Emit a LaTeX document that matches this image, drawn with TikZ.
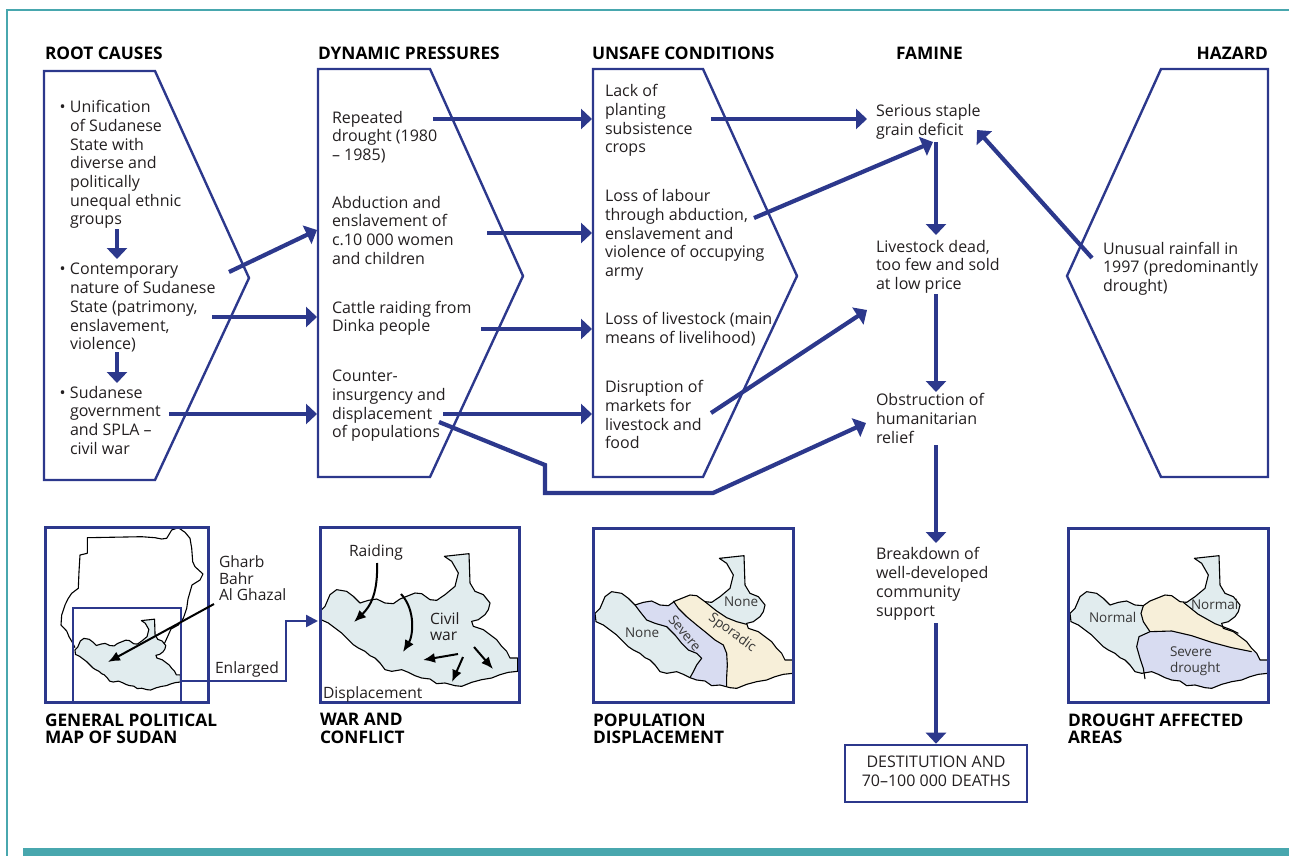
\documentclass[tikz,border=0pt]{standalone}
\usepackage{fontspec}
\setmainfont{Open Sans}
\usetikzlibrary{arrows.meta}
\definecolor{navyc}{RGB}{44,56,140}
\definecolor{framec}{RGB}{72,167,174}
\definecolor{mapblue}{RGB}{225,236,238}
\definecolor{mappurple}{RGB}{216,220,241}
\definecolor{mapbeige}{RGB}{247,239,217}
\definecolor{txtc}{RGB}{35,31,32}
\definecolor{labc}{RGB}{55,55,55}
\newcommand\myBody{\fontsize{16}{18.7}\selectfont}
\newcommand\myHead{\fontsize{17.3}{17.5}\selectfont\bfseries}
\newcommand\myLab{\fontsize{15.6}{16}\selectfont}
\newcommand\mySmall{\fontsize{13.5}{16}\selectfont}
\newcommand\mylines[1]{\begin{tabular}{@{}l@{}}#1\end{tabular}}
\newcommand\bul{\makebox[10.5pt][l]{\textbullet}}
\newcommand\ind{\hspace*{10.5pt}}
\newcommand\sspath{(15,265) -- (30,250) -- (45,215) -- (65,200) -- (95,205) -- (115,220) -- (135,240) -- (160,232) -- (185,228) -- (210,240) -- (235,242) -- (255,228) -- (275,220) -- (300,210) -- (320,212) -- (345,230) -- (365,232) -- (390,215) -- (420,190) -- (430,150) -- (410,115) -- (388,100) -- (462,92) -- (465,180) -- (480,205) -- (505,215) -- (525,240) -- (520,260) -- (510,275) -- (490,290) -- (470,295) -- (475,310) -- (505,320) -- (525,335) -- (545,350) -- (560,370) -- (575,385) -- (585,405) -- (608,405) -- (608,445) -- (580,448) -- (555,455) -- (530,465) -- (500,470) -- (470,478) -- (440,490) -- (420,488) -- (390,480) -- (365,482) -- (345,468) -- (320,465) -- (300,458) -- (280,448) -- (260,440) -- (230,445) -- (210,440) -- (195,420) -- (180,405) -- (165,398) -- (150,385) -- (130,375) -- (115,365) -- (100,350) -- (80,330) -- (60,315) -- (40,300) -- (18,290) -- cycle}
\tikzset{
  txt/.style={anchor=north west, inner sep=0pt, outer sep=0pt, font=\myBody, text=txtc},
  head/.style={anchor=base west, inner sep=0pt, outer sep=0pt, font=\myHead, text=black},
  headtwo/.style={anchor=north west, inner sep=0pt, outer sep=0pt, font=\myHead, text=black},
  lab/.style={inner sep=0pt, outer sep=0pt, font=\myLab, text=txtc},
  glab/.style={inner sep=0pt, outer sep=0pt, font=\mySmall, text=labc},
  chev/.style={draw=navyc, line width=2.4pt, line join=miter},
  narrow/.style={draw=navyc, line width=4.2pt, -{Triangle[length=11pt,width=20pt]}},
  thinarrow/.style={draw=navyc, line width=2.4pt, -{Triangle[length=12pt,width=12pt]}},
  barrow/.style={draw=black, line width=2pt, -{Latex[length=12pt,width=10pt]}},
  mapline/.style={draw=black, line width=1.1pt, line join=round},
}
\begin{document}
\begin{tikzpicture}[x=1pt, y=-1pt]
\useasboundingbox (0,0) rectangle (1289,856);
% frame
\draw[framec, line width=2pt] (1289,10) -- (7,10) -- (7,856);
\fill[framec] (23,848) rectangle (1289,856);

% headings
\node[head] (hroot) at (45,59.3) {ROOT CAUSES};
\node[head] (hdyn) at (318,59.3) {DYNAMIC PRESSURES};
\node[head] (hunsafe) at (592,59.3) {UNSAFE CONDITIONS};
\node[head] (hfam) at (896,59.3) {FAMINE};
\node[head, anchor=base east] (hhaz) at (1268,59.3) {HAZARD};

% chevron boxes
\draw[chev] (44,71) -- (155,71) -- (249,278) -- (155,480) -- (44,480) -- cycle;
\draw[chev] (318,69) -- (430,69) -- (523,276) -- (430,477) -- (318,477) -- cycle;
\draw[chev] (593,69) -- (703,69) -- (797,276) -- (703,477) -- (593,477) -- cycle;
\draw[chev] (1268,69) -- (1161,69) -- (1067,276) -- (1161,477) -- (1268,477) -- cycle;

% root causes
\node[txt] (r1) at (59.5,99.6) {\mylines{\bul Unification\\\ind of Sudanese\\\ind State with\\\ind diverse and\\\ind politically\\\ind unequal ethnic\\\ind groups}};
\node[txt] (r2) at (59.5,261.9) {\mylines{\bul Contemporary\\\ind nature of Sudanese\\\ind State (patrimony,\\\ind enslavement,\\\ind violence)}};
\node[txt] (r3) at (59.5,385.2) {\mylines{\bul Sudanese\\\ind government\\\ind and SPLA –\\\ind civil war}};

% dynamic pressures
\node[txt] (d1) at (332,110.2) {\mylines{Repeated\\drought (1980\\– 1985)}};
\node[txt] (d2) at (332,195.2) {\mylines{Abduction and\\enslavement of\\c.10 000 women\\and children}};
\node[txt] (d3) at (332,300.2) {\mylines{Cattle raiding from\\Dinka people}};
\node[txt] (d4) at (332,368.6) {\mylines{Counter-\\insurgency and\\displacement\\of populations}};

% unsafe conditions
\node[txt] (u1) at (605,83.6) {\mylines{Lack of\\planting\\subsistence\\crops}};
\node[txt] (u2) at (605,188.6) {\mylines{Loss of labour\\through abduction,\\enslavement and\\violence of occupying\\army}};
\node[txt] (u3) at (605,311.9) {\mylines{Loss of livestock (main\\means of livelihood)}};
\node[txt] (u4) at (605,379.6) {\mylines{Disruption of\\markets for\\livestock and\\food}};

% famine
\node[txt] (f1) at (876,103.6) {\mylines{Serious staple\\grain deficit}};
\node[txt] (f2) at (876,239.2) {\mylines{Livestock dead,\\too few and sold\\at low price}};
\node[txt] (f3) at (876,392.9) {\mylines{Obstruction of\\humanitarian\\relief}};
\node[txt] (f4) at (876,546.9) {\mylines{Breakdown of\\well-developed\\community\\support}};
\node[draw=navyc, line width=2.6pt, minimum width=182pt, minimum height=57pt, inner sep=0pt, font=\myBody, text=txtc] (f5) at (936,773.5) {\begin{tabular}{@{}c@{}}DESTITUTION AND\\70–100 000 DEATHS\end{tabular}};

% hazard
\node[txt] (hz) at (1103,241.2) {\mylines{Unusual rainfall in\\1997 (predominantly\\drought)}};

% connector coordinates
\coordinate (ra1) at (117,229); \coordinate (ra2) at (117,259);
\coordinate (rb1) at (117,352); \coordinate (rb2) at (117,383);
\coordinate (a1s) at (229,272); \coordinate (a1e) at (317,230);
\coordinate (a2s) at (212,317); \coordinate (a2e) at (317,317);
\coordinate (a3s) at (169,414); \coordinate (a3e) at (317,414);
\coordinate (b1s) at (433,119); \coordinate (b1e) at (592,119);
\coordinate (b2s) at (487,233); \coordinate (b2e) at (592,233);
\coordinate (b3s) at (481,329); \coordinate (b3e) at (592,329);
\coordinate (b4s) at (443,414); \coordinate (b4e) at (592,414);
\coordinate (b5s) at (439,422); \coordinate (b5a) at (545,465); \coordinate (b5b) at (545,493); \coordinate (b5c) at (713,493); \coordinate (b5e) at (866,423);
\coordinate (c1s) at (711,119); \coordinate (c1e) at (867,119);
\coordinate (c2s) at (754,218); \coordinate (c2e) at (933,142);
\coordinate (c3s) at (711,413); \coordinate (c3e) at (867,310);
\coordinate (hs) at (1092,258); \coordinate (he) at (977,130);
\coordinate (v1s) at (936,142); \coordinate (v1e) at (936,235);
\coordinate (v2s) at (936,294); \coordinate (v2e) at (936,392);
\coordinate (v3s) at (936,445); \coordinate (v3e) at (936,543);
\coordinate (v4s) at (936,623);

% navy arrows
\draw[narrow] (ra1) -- (ra2);
\draw[narrow] (rb1) -- (rb2);
\draw[narrow] (a1s) -- (a1e);
\draw[narrow] (a2s) -- (a2e);
\draw[narrow] (a3s) -- (a3e);
\draw[narrow] (b1s) -- (b1e);
\draw[narrow] (b2s) -- (b2e);
\draw[narrow] (b3s) -- (b3e);
\draw[narrow] (b4s) -- (b4e);
\draw[narrow, line join=miter] (b5s) -- (b5a) -- (b5b) -- (b5c) -- (b5e);
\draw[narrow] (c1s) -- (c1e);
\draw[narrow] (c2s) -- (c2e);
\draw[narrow] (c3s) -- (c3e);
\draw[narrow] (hs) -- (he);
\draw[narrow] (v1s) -- (v1e);
\draw[narrow] (v2s) -- (v2e);
\draw[narrow] (v3s) -- (v3e);
\draw[narrow] (v4s) -- (f5.north);

% ---------- map 1: general political map
\draw[mapline] (75,647.7) -- (72.3,642.3) -- (69,636.7) -- (66.7,631) -- (61,625) -- (61.7,615) -- (65,605) -- (68.3,598.3) -- (71.7,593.3) -- (78.3,588.3) -- (79,571.7) -- (80,555) -- (87.3,553.3) -- (87.3,537.7) -- (141.7,536.7) -- (155,537.7) -- (161.7,539) -- (166.7,538.3) -- (171.7,530) -- (178.3,527.7) -- (185,532.3) -- (190,538.3) -- (191.7,548.3) -- (192.7,561.7) -- (195,566.7) -- (203,574) -- (200,580) -- (192,585) -- (188,599) -- (186.7,608.3) -- (183.3,618.3) -- (178.3,625) -- (171,629) -- (168.3,635) -- (165,642.3) -- (163,646);
\begin{scope}[shift={(72.3,602.8)}, scale=0.178]
  \fill[mapblue] \sspath;
  \draw[mapline] \sspath;
\end{scope}
\draw[navyc, line width=1.4pt] (73,702) -- (73,608) -- (181,608) -- (181,702);
\node[draw=navyc, line width=3pt, minimum width=163pt, minimum height=175pt, inner sep=0pt] (m1) at (126.5,614.5) {};
\node[lab, anchor=north west] (gharb) at (219,555.5) {\begin{tabular}{@{}l@{}}Gharb\\Bahr\\Al Ghazal\end{tabular}};
\coordinate (gs) at (214,604); \coordinate (ge) at (108,662);
\draw[barrow] (gs) -- (ge);
\node[lab, anchor=base west] (enl) at (215,673.3) {Enlarged};

% ---------- map 2: war and conflict
\begin{scope}[shift={(315,523)}, scale=1/3]
  \fill[mapblue] \sspath;
  \draw[mapline] \sspath;
\end{scope}
\node[draw=navyc, line width=3pt, minimum width=199pt, minimum height=175pt, inner sep=0pt] (m2) at (419.5,614.5) {};
\coordinate (e1) at (181,681); \coordinate (e2) at (286,681); \coordinate (e3) at (286,621); \coordinate (e4) at (318,621);
\draw[thinarrow, line join=miter] (e1) -- (e2) -- (e3) -- (e4);
\node[lab, anchor=base west] (raid) at (349,556.7) {Raiding};
\node[lab, anchor=north west] (civ) at (430,612.8) {\begin{tabular}{@{}l@{}}Civil\\war\end{tabular}};
\node[lab, anchor=base west] (disp) at (323,698.3) {Displacement};
\coordinate (w1s) at (377,563); \coordinate (w1e) at (354,622);
\coordinate (w2s) at (401,594); \coordinate (w2e) at (403,652);
\coordinate (w3s) at (458,654); \coordinate (w3e) at (423,660);
\coordinate (w4s) at (463,657); \coordinate (w4e) at (452,682);
\coordinate (w5s) at (474,647); \coordinate (w5e) at (493,669);
\draw[barrow] (w1s) .. controls (378,592) and (371,606) .. (w1e);
\draw[barrow] (w2s) .. controls (416,610) and (413,636) .. (w2e);
\draw[barrow] (w3s) -- (w3e);
\draw[barrow] (w4s) -- (w4e);
\draw[barrow] (w5s) -- (w5e);

% ---------- map 3: population displacement
\begin{scope}[shift={(590,525)}, scale=1/3]
  \fill[mapblue] \sspath;
  \begin{scope}
    \clip \sspath;
    \fill[mappurple] (135,240) -- (150,260) -- (170,285) -- (195,295) -- (230,305) -- (255,330) -- (275,355) -- (295,375) -- (320,385) -- (335,400) -- (320,420) -- (310,440) -- (300,470) -- (300,520) -- (410,520) -- (410,455) -- (412,420) -- (410,385) -- (400,360) -- (375,345) -- (345,320) -- (320,300) -- (290,275) -- (265,250) -- (250,228) -- (200,180) -- (120,200) -- cycle;
    \fill[mapbeige] (250,228) -- (265,250) -- (290,275) -- (320,300) -- (345,320) -- (375,345) -- (400,360) -- (410,385) -- (412,420) -- (410,455) -- (410,520) -- (640,520) -- (640,300) -- (470,298) -- (440,290) -- (410,278) -- (380,258) -- (345,230) -- (320,200) -- (250,200) -- cycle;
  \end{scope}
  \draw[mapline] (135,240) -- (150,260) -- (170,285) -- (195,295) -- (230,305) -- (255,330) -- (275,355) -- (295,375) -- (320,385) -- (335,400) -- (320,420) -- (310,440) -- (300,458);
  \draw[mapline] (250,228) -- (265,250) -- (290,275) -- (320,300) -- (345,320) -- (375,345) -- (400,360) -- (410,385) -- (412,420) -- (410,455) -- (410,485);
  \draw[mapline] (345,230) -- (380,258) -- (410,278) -- (440,290) -- (470,298);
  \draw[mapline] \sspath;
\end{scope}
\node[draw=navyc, line width=3pt, minimum width=200pt, minimum height=174pt, inner sep=0pt] (m3) at (693,615) {};
\node[glab, anchor=base west] (n1) at (625,637.7) {None};
\node[glab, anchor=base west] (n2) at (724,606.7) {None};
\node[glab, rotate=-50] (sev) at (685,633) {Severe};
\node[glab, rotate=-36] (spo) at (732,633) {Sporadic};

% ---------- map 4: drought affected areas
\begin{scope}[shift={(1065,525)}, scale=1/3]
  \fill[mapblue] \sspath;
  \begin{scope}
    \clip \sspath;
    \fill[mapbeige] (235,240) -- (228,265) -- (235,290) -- (255,320) -- (320,318) -- (380,332) -- (440,352) -- (500,368) -- (560,380) -- (600,380) -- (560,335) -- (520,325) -- (500,315) -- (450,296) -- (400,268) -- (355,232) -- (300,180) -- (220,200) -- cycle;
    \fill[mappurple] (240,470) -- (235,430) -- (225,400) -- (215,365) -- (222,335) -- (255,320) -- (320,318) -- (380,332) -- (440,352) -- (500,368) -- (560,380) -- (640,380) -- (640,520) -- (240,520) -- cycle;
  \end{scope}
  \draw[mapline] (235,242) -- (228,265) -- (235,290) -- (255,320);
  \draw[mapline] (255,320) -- (222,335) -- (215,365) -- (225,400) -- (235,430) -- (240,462);
  \draw[mapline] (255,320) -- (320,318) -- (380,332) -- (440,352) -- (500,368) -- (560,380);
  \draw[mapline] (355,232) -- (400,268) -- (450,296) -- (500,315) -- (520,325);
  \draw[mapline] \sspath;
\end{scope}
\node[draw=navyc, line width=3pt, minimum width=200pt, minimum height=174pt, inner sep=0pt] (m4) at (1168,615) {};
\node[glab, anchor=base west] (nm1) at (1089,622.7) {Normal};
\node[glab, anchor=base west] (nm2) at (1191,609.3) {Normal};
\node[glab, anchor=north west] (sd) at (1170,645.5) {\begin{tabular}{@{}l@{}}Severe\\drought\end{tabular}};

% bottom headings
\node[headtwo] (hm1) at (45,713.5) {\begin{tabular}{@{}l@{}}GENERAL POLITICAL\\MAP OF SUDAN\end{tabular}};
\node[headtwo] (hm2) at (320,713.5) {\begin{tabular}{@{}l@{}}WAR AND\\CONFLICT\end{tabular}};
\node[headtwo] (hm3) at (593,713.5) {\begin{tabular}{@{}l@{}}POPULATION\\DISPLACEMENT\end{tabular}};
\node[headtwo] (hm4) at (1068,713.5) {\begin{tabular}{@{}l@{}}DROUGHT AFFECTED\\AREAS\end{tabular}};
\end{tikzpicture}
\end{document}
